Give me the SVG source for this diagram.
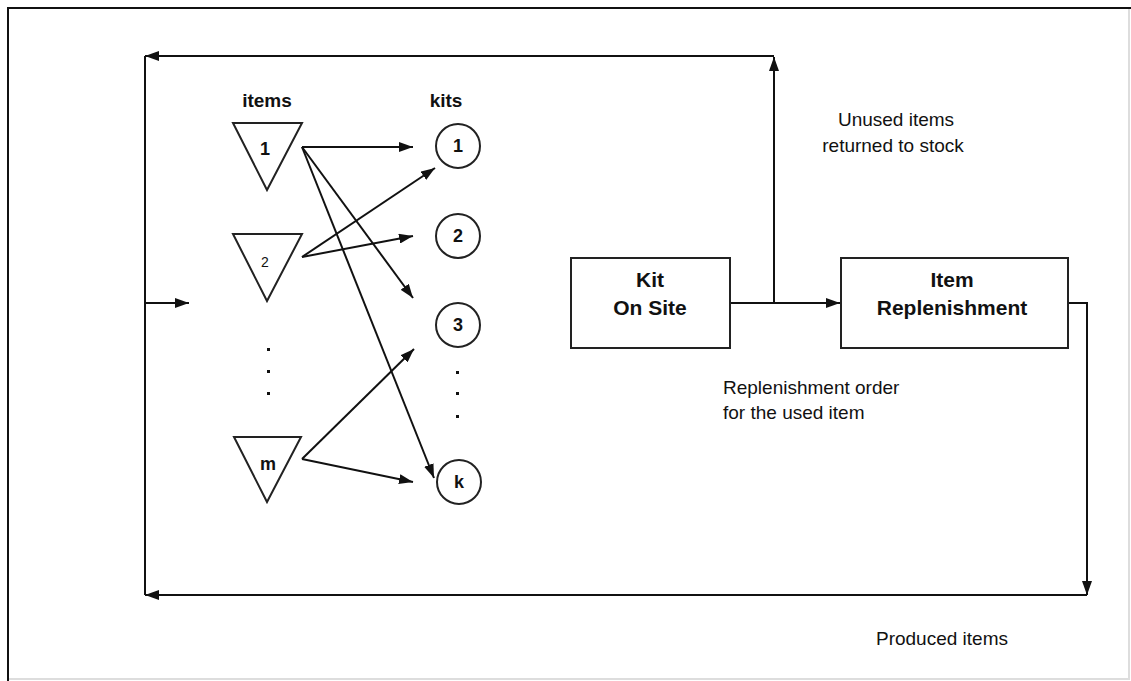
<svg xmlns="http://www.w3.org/2000/svg" width="1131" height="681" viewBox="0 0 1131 681">
<style>
.ln{fill:none;stroke:#111;stroke-width:2}
.nd{fill:#fff;stroke:#222;stroke-width:2}
.b{font-family:"Liberation Sans",Arial,sans-serif;font-weight:bold;fill:#111}
.r{font-family:"Liberation Sans",Arial,sans-serif;fill:#111;font-size:19px}
.dot{fill:#111}
</style>
<defs>
<marker id="ah" viewBox="0 0 14 10" refX="14" refY="5" markerWidth="14" markerHeight="10" markerUnits="userSpaceOnUse" orient="auto">
<path d="M0,0 L14,5 L0,10 Z" fill="#111"/>
</marker>
</defs>
<rect x="0" y="0" width="1131" height="681" fill="#fff"/>
<g id="frame">
<path d="M8,681 V8 H1131" fill="none" stroke="#111" stroke-width="2"/>
<path d="M1129,9 V679 H9" fill="none" stroke="#ddd" stroke-width="2"/>
</g>
<g id="connectors">
<path class="ln" d="M774,303 V57" marker-end="url(#ah)"/>
<path class="ln" d="M774,56 H145" marker-end="url(#ah)"/>
<path class="ln" d="M145,56 V595"/>
<path class="ln" d="M145,303 H189" marker-end="url(#ah)"/>
<path class="ln" d="M730,303 H840" marker-end="url(#ah)"/>
<path class="ln" d="M1068,303 H1087 V595" marker-end="url(#ah)"/>
<path class="ln" d="M1087,595 H145" marker-end="url(#ah)"/>
<path class="ln" d="M302,147 L413,147" marker-end="url(#ah)"/>
<path class="ln" d="M302,147 L413,298" marker-end="url(#ah)"/>
<path class="ln" d="M302,147 L434,478" marker-end="url(#ah)"/>
<path class="ln" d="M302,257 L435,168" marker-end="url(#ah)"/>
<path class="ln" d="M302,257 L413,236" marker-end="url(#ah)"/>
<path class="ln" d="M302,459 L414,349" marker-end="url(#ah)"/>
<path class="ln" d="M302,459 L413,482" marker-end="url(#ah)"/>
</g>
<g id="headers">
<text class="b" x="267" y="107" font-size="19" text-anchor="middle">items</text>
<text class="b" x="446" y="107" font-size="19" text-anchor="middle">kits</text>
</g>
<g id="item1">
<path class="nd" d="M233,123 H302 L267,190 Z"/>
<text class="b" x="265" y="155" font-size="18" text-anchor="middle">1</text>
</g>
<g id="item2">
<path class="nd" d="M233,234 H302 L267,301 Z"/>
<text x="265" y="267" font-size="14" text-anchor="middle" font-family="Liberation Sans, Arial, sans-serif" fill="#111">2</text>
</g>
<g id="item-dots">
<rect class="dot" x="267" y="348" width="3" height="3"/>
<rect class="dot" x="267" y="370" width="3" height="3"/>
<rect class="dot" x="267" y="392" width="3" height="3"/>
</g>
<g id="itemm">
<path class="nd" d="M234,437 H301 L267,502 Z"/>
<text class="b" x="268" y="470" font-size="18" text-anchor="middle">m</text>
</g>
<g id="kit1">
<circle class="nd" cx="458" cy="146" r="22"/>
<text class="b" x="458" y="152" font-size="18" text-anchor="middle">1</text>
</g>
<g id="kit2">
<circle class="nd" cx="458" cy="236" r="22"/>
<text class="b" x="458" y="242" font-size="18" text-anchor="middle">2</text>
</g>
<g id="kit3">
<circle class="nd" cx="458" cy="325" r="22"/>
<text class="b" x="458" y="331" font-size="18" text-anchor="middle">3</text>
</g>
<g id="kit-dots">
<rect class="dot" x="456" y="371" width="3" height="3"/>
<rect class="dot" x="456" y="392" width="3" height="3"/>
<rect class="dot" x="456" y="415" width="3" height="3"/>
</g>
<g id="kitk">
<circle class="nd" cx="459" cy="482" r="22"/>
<text class="b" x="459" y="488" font-size="18" text-anchor="middle">k</text>
</g>
<g id="kit-on-site">
<rect class="nd" x="571" y="258" width="159" height="90"/>
<text class="b" x="650" y="287" font-size="21" text-anchor="middle">Kit</text>
<text class="b" x="650" y="315" font-size="21" text-anchor="middle">On Site</text>
</g>
<g id="item-replenishment">
<rect class="nd" x="841" y="258" width="227" height="90"/>
<text class="b" x="952" y="287" font-size="21" text-anchor="middle">Item</text>
<text class="b" x="952" y="315" font-size="21" text-anchor="middle">Replenishment</text>
</g>
<g id="labels">
<text class="r" x="896" y="126" text-anchor="middle">Unused items</text>
<text class="r" x="893" y="152" text-anchor="middle">returned to stock</text>
<text class="r" x="723" y="394">Replenishment order</text>
<text class="r" x="723" y="419">for the used item</text>
<text class="r" x="1008" y="645" text-anchor="end">Produced items</text>
</g>
</svg>
